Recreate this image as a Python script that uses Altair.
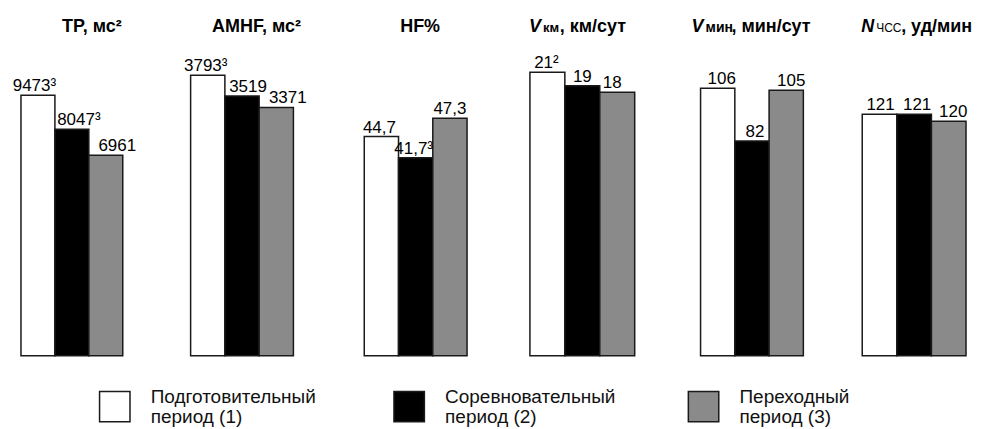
import altair as alt
import pandas as pd

FONT = "Liberation Sans"

# ---------------- data ----------------
period_keys = ["p1", "p2", "p3"]
period_colors = ["#ffffff", "#000000", "#8a8a8a"]
legend_line1 = ["Подготовительный", "Соревновательный", "Переходный"]
legend_line2 = ["период (1)", "период (2)", "период (3)"]

tp_values = [9473, 8047, 6961]
tp_labels = ["9473³", "8047³", "6961"]
amhf_values = [3793, 3519, 3371]
amhf_labels = ["3793³", "3519", "3371"]
hf_values = [44.7, 41.7, 47.3]
hf_labels = ["44,7", "41,7³", "47,3"]
vkm_values = [21, 19, 18]
vkm_labels = ["21²", "19", "18"]
vmin_values = [106, 82, 105]
vmin_labels = ["106", "82", "105"]
hr_values = [121, 121, 120]
hr_labels = ["121", "121", "120"]

# title pieces: (text, size, weight, style)
title_tp = [("TP, мс²", 18, "bold", "normal")]
title_amhf = [("AMHF, мс²", 18, "bold", "normal")]
title_hf = [("HF%", 18, "bold", "normal")]
title_vkm = [("V", 18, "bold", "italic"), ("км", 13, "bold", "normal"), (", км/сут", 18, "bold", "normal")]
title_vmin = [("V", 18, "bold", "italic"), ("мин", 14, "bold", "normal"), (", мин/сут", 18, "bold", "normal")]
title_hr = [("N", 18, "bold", "italic"), ("ЧСС", 12, "normal", "normal"), (", уд/мин", 18, "bold", "normal")]

# ---------------- layout ----------------
H = 348
TITLE_Y = 24
panel_widths = [170, 174, 166, 171, 162, 104]
bar_group_widths = [102, 103, 103, 105, 103, 104]
# individual y-scale domains (each panel has its own scale, no axes)
domains = [(-1452, 13115), (114, 4669), (13.64, 62.86), (-21.58, 30.6), (-15.2, 142.1), (86.43, 136.14)]
# title anchor x (relative to panel) and alignment
title_x = [[71], [66], [56], [-1, 13, 30], [-9, 5, 31], [-1, 14, 39]]
title_align = ["center", "center", "center", "left", "left", "left"]
# horizontal nudges of the value labels (per panel, per bar)
label_dx = [[-3.5, 7, 11.5], [-2, 6, 11.5], [-2, -2, 0], [-1, 0, -5], [4, 3, 5], [1, 3, 4.5]]


def title_layers(pieces, xs, align):
    layers = []
    for (txt, size, weight, style), x in zip(pieces, xs):
        layers.append(
            alt.Chart(pd.DataFrame({"t": [txt]}))
            .mark_text(font=FONT, fontSize=size, fontWeight=weight, fontStyle=style,
                       align=align, baseline="alphabetic", color="black")
            .encode(text="t:N", x=alt.value(x), y=alt.value(TITLE_Y))
        )
    return layers


def panel(values, labels, dom, width, bw, pieces, xs, align, dxs):
    lo, hi = dom
    df = pd.DataFrame({"period": period_keys, "value": values, "label": labels})
    base = alt.Chart(df).encode(
        x=alt.X("period:N", sort=period_keys,
                scale=alt.Scale(range=[0, bw], paddingInner=0, paddingOuter=0), axis=None),
        y=alt.Y("value:Q", scale=alt.Scale(domain=[lo, hi], nice=False, zero=False), axis=None),
    )
    bars = base.mark_bar(stroke="#1a1a1a", strokeWidth=1.5).encode(
        y2=alt.datum(lo),
        color=alt.Color("period:N", scale=alt.Scale(domain=period_keys, range=period_colors), legend=None),
    )
    texts = []
    for key, dx in zip(period_keys, dxs):
        texts.append(
            base.transform_filter(alt.datum.period == key)
            .mark_text(font=FONT, fontSize=17, dx=dx, dy=-4, baseline="alphabetic", color="black")
            .encode(text="label:N")
        )
    return alt.layer(bars, *texts, *title_layers(pieces, xs, align)).properties(width=width, height=H)


specs = [
    (tp_values, tp_labels, title_tp),
    (amhf_values, amhf_labels, title_amhf),
    (hf_values, hf_labels, title_hf),
    (vkm_values, vkm_labels, title_vkm),
    (vmin_values, vmin_labels, title_vmin),
    (hr_values, hr_labels, title_hr),
]
panels = [
    panel(v, l, domains[i], panel_widths[i], bar_group_widths[i], t, title_x[i], title_align[i], label_dx[i])
    for i, (v, l, t) in enumerate(specs)
]

top = alt.hconcat(*panels, spacing=0, bounds="flush").resolve_scale(y="independent", x="independent")

# ---------------- legend ----------------
leg_df = pd.DataFrame({"period": period_keys, "idx": [0, 1, 2],
                       "line1": legend_line1, "line2": legend_line2})
leg_base = alt.Chart(leg_df).encode(
    x=alt.X("idx:Q", scale=alt.Scale(domain=[0, 2], range=[94, 684]), axis=None)
)
squares = leg_base.mark_square(size=930, stroke="#1a1a1a", strokeWidth=1.5, opacity=1).encode(
    y=alt.value(50),
    color=alt.Color("period:N", scale=alt.Scale(domain=period_keys, range=period_colors), legend=None),
)
l1 = leg_base.mark_text(font=FONT, fontSize=19, align="left", dx=36, baseline="alphabetic", color="#111").encode(
    y=alt.value(46), text="line1:N")
l2 = leg_base.mark_text(font=FONT, fontSize=19, align="left", dx=36, baseline="alphabetic", color="#111").encode(
    y=alt.value(66), text="line2:N")
legend = alt.layer(squares, l1, l2).properties(width=900, height=60)

chart = (
    alt.vconcat(top, legend, spacing=0)
    .properties(padding={"left": 4, "top": 0, "right": 0, "bottom": 0}, background="white")
    .configure_view(stroke=None)
)

chart.save("out.html", embed_options={"renderer": "svg", "actions": False})
